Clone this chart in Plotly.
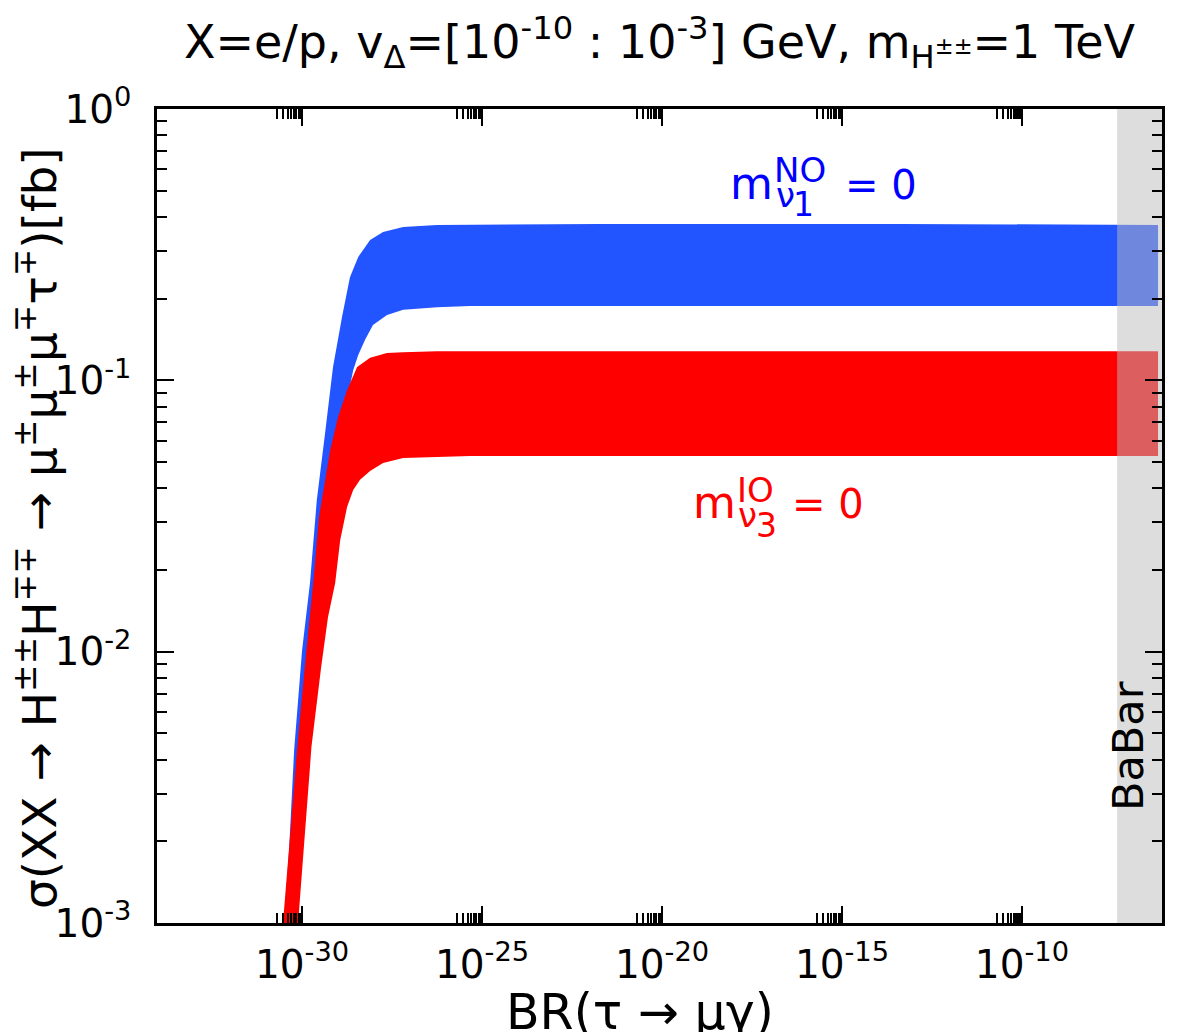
import plotly.graph_objects as go

# ---------------- data ----------------
# Blue band: m_nu1^NO = 0  (log10 BR values, cross section in fb)
blue_outer_logx = [-30.50, -30.36, -30.22, -30.00, -29.78, -29.64, -29.59, -29.36, -29.14,
                   -28.89, -28.67, -28.44, -28.11, -27.75, -27.19, -26.25, -21.72, -13.39, -6.22]
blue_outer_y = [1.0e-3, 1.86e-3, 4.34e-3, 1.01e-2, 1.79e-2, 3.16e-2, 3.62e-2, 6.4e-2, 0.112,
                0.171, 0.240, 0.285, 0.329, 0.352, 0.367, 0.374, 0.377, 0.377, 0.374]
blue_inner_logx = [-6.22, -16.17, -25.33, -26.25, -27.19, -27.64, -28.03, -28.25, -28.44,
                   -28.58, -28.72, -28.92, -29.08, -29.39, -29.69, -29.94, -30.14, -30.31]
blue_inner_y = [0.188, 0.188, 0.188, 0.186, 0.182, 0.174, 0.160, 0.141, 0.124,
                0.109, 0.0883, 0.0656, 0.043, 0.0218, 0.0101, 3.76e-3, 1.86e-3, 1.0e-3]

# Red band: m_nu3^IO = 0
red_outer_logx = [-30.53, -30.33, -30.14, -29.88, -29.69, -29.53, -29.36, -29.22, -29.00,
                  -28.75, -28.47, -28.11, -27.64, -27.19, -26.25, -16.17, -6.22]
red_outer_y = [1.0e-3, 2.14e-3, 4.34e-3, 1.01e-2, 1.79e-2, 3.13e-2, 4.3e-2, 5.53e-2, 7.32e-2,
               0.092, 0.112, 0.121, 0.126, 0.127, 0.128, 0.128, 0.128]
red_inner_logx = [-6.22, -16.17, -25.33, -26.25, -27.19, -27.75, -28.11, -28.39, -28.58,
                  -28.75, -28.94, -29.08, -29.28, -29.47, -29.60, -29.74, -29.78, -29.96, -30.11]
red_inner_y = [0.0526, 0.0526, 0.0526, 0.0522, 0.0517, 0.0496, 0.0463, 0.043, 0.0394,
               0.0341, 0.0258, 0.0179, 0.0134, 8.77e-3, 6.47e-3, 4.45e-3, 3.76e-3, 1.86e-3, 1.0e-3]

babar_limit = 4.4e-8
x_range_log = [-34.03, -6.11]
y_range_log = [-3, 0]

x_major_exp = [-30, -25, -20, -15, -10]
y_major_exp = [0, -1, -2, -3]

FONT = "DejaVu Sans"

# ---------------- figure ----------------
fig = go.Figure()

def band(logx_outer, y_outer, logx_inner, y_inner, color):
    xs = [10 ** v for v in logx_outer] + [10 ** v for v in logx_inner]
    ys = list(y_outer) + list(y_inner)
    fig.add_trace(go.Scatter(x=xs, y=ys, mode="lines", fill="toself",
                             fillcolor=color, line=dict(width=0, color=color),
                             hoverinfo="skip", showlegend=False))

band(blue_outer_logx, blue_outer_y, blue_inner_logx, blue_inner_y, "#2254ff")
band(red_outer_logx, red_outer_y, red_inner_logx, red_inner_y, "#ff0000")

# BaBar excluded region (semi-transparent grey over the points)
xr = 10 ** x_range_log[1]
ylo, yhi = 10 ** y_range_log[0], 10 ** y_range_log[1]
fig.add_trace(go.Scatter(x=[babar_limit, xr, xr, babar_limit, babar_limit],
                         y=[ylo, ylo, yhi, yhi, ylo], mode="lines", fill="toself",
                         fillcolor="rgba(187,187,187,0.5)", line=dict(width=0),
                         hoverinfo="skip", showlegend=False))

x_minor = [k * 10.0 ** (e - 1) for e in x_major_exp for k in range(2, 10)]
y_minor = [k * 10.0 ** e for e in [-3, -2, -1] for k in range(2, 10)]

axis_common = dict(type="log", showgrid=False, zeroline=False, showline=True,
                   linecolor="black", linewidth=2.5, mirror="allticks",
                   ticks="inside", ticklen=17, tickwidth=2, tickcolor="black",
                   tickfont=dict(family=FONT, size=39, color="black"))

fig.update_xaxes(**axis_common, range=x_range_log, tickmode="array",
                 tickvals=[10.0 ** e for e in x_major_exp],
                 ticktext=["10<sup>%d</sup>" % e for e in x_major_exp],
                 ticklabelstandoff=5,
                 minor=dict(tickmode="array", tickvals=x_minor, ticks="inside",
                            ticklen=10, tickwidth=2, tickcolor="black"))
fig.update_yaxes(**axis_common, range=y_range_log, tickmode="array",
                 tickvals=[10.0 ** e for e in y_major_exp],
                 ticktext=["10<sup>%d</sup>" % e for e in y_major_exp],
                 ticklabelstandoff=15,
                 minor=dict(tickmode="array", tickvals=y_minor, ticks="inside",
                            ticklen=10, tickwidth=2, tickcolor="black"))

# page offset of the plot (browser body margin)
OFF = 8
W, H = 1170, 1024
L, R, T, B = 149, 16, 101, 109
pw, ph = W - L - R, H - T - B

def px2paper(px, py):
    return (px - OFF - L) / pw, (H - B - (py - OFF)) / ph

ann = []

def add_text(px, py, text, size, color="black", xanchor="center", angle=0):
    tx, ty = px2paper(px, py)
    ann.append(dict(x=tx, y=ty, xref="paper", yref="paper", showarrow=False,
                    text=text, textangle=angle,
                    font=dict(family=FONT, size=size, color=color),
                    xanchor=xanchor, yanchor="middle"))

add_text(660, 42, "X=e/p, v<sub>Δ</sub>=[10<sup>-10</sup> : 10<sup>-3</sup>] GeV, m<sub>H<sup>±±</sup></sub>=1 TeV", 46)
add_text(640, 1012, "BR(τ → μγ)", 49)
add_text(36, 528, "σ(XX → H<sup>±±</sup>H<sup>∓∓</sup> → μ<sup>±</sup>μ<sup>±</sup>μ<sup>∓</sup>τ<sup>∓</sup>)[fb]", 47, angle=-90)
add_text(1128, 746, "BaBar", 43, angle=-90)

# blue label: m^{NO}_{nu_1} = 0
BL = "#0000ff"
add_text(728, 184, "m", 44, BL, "left")
add_text(772, 170, "NO", 34, BL, "left")
add_text(774, 195, "ν", 34, BL, "left")
add_text(791, 204.5, "1", 33, BL, "left")
add_text(843, 185.5, "= 0", 40, BL, "left")

# red label: m^{IO}_{nu_3} = 0
RD = "#ff0000"
add_text(691, 503, "m", 44, RD, "left")
add_text(735, 490, "IO", 34, RD, "left")
add_text(736, 515, "ν", 34, RD, "left")
add_text(754, 525, "3", 33, RD, "left")
add_text(790, 504.5, "= 0", 40, RD, "left")

fig.update_layout(width=W, height=H, margin=dict(l=L, r=R, t=T, b=B),
                  paper_bgcolor="white", plot_bgcolor="white",
                  showlegend=False, annotations=ann,
                  font=dict(family=FONT, color="black"))

fig.write_html("out.html")
